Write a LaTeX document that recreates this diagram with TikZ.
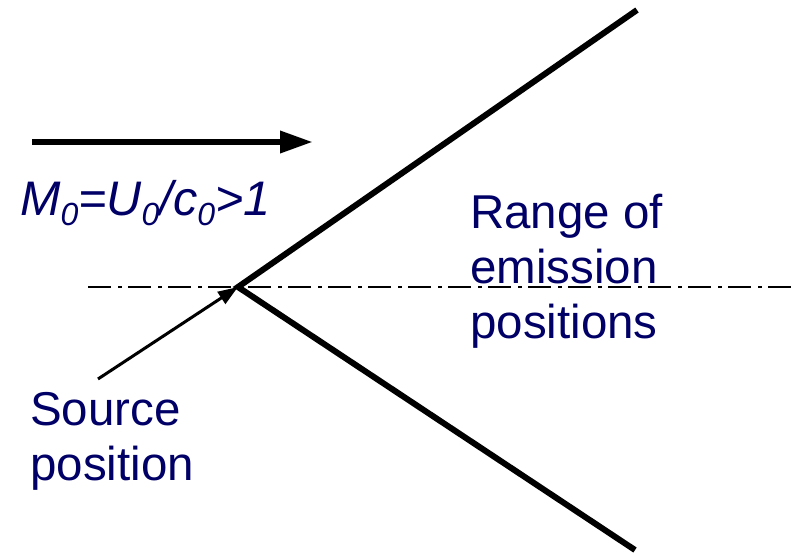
\documentclass[tikz,border=0pt]{standalone}
\usepackage{fontspec}
\setmainfont{Liberation Sans}
\usetikzlibrary{arrows.meta}
\definecolor{navytext}{RGB}{0,0,102}
\newcommand{\lowsub}[1]{\raisebox{-10pt}{\fontsize{32}{32}\selectfont #1}}

\begin{document}
\begin{tikzpicture}[
        x=1pt, y=-1pt,
        lbl/.style={text=navytext, font=\fontsize{47.5}{55}\selectfont, align=left, inner sep=0pt},
        wall/.style={line width=6pt, line join=miter},
        flow/.style={line width=6.5pt, -{Triangle[length=33pt, width=21pt]}},
        pointer/.style={line width=3pt, -{Triangle[length=20pt, width=14pt]}},
        axis/.style={line width=2pt, dash pattern=on 23pt off 7pt on 4pt off 6pt}
    ]
        \useasboundingbox (0,0) rectangle (798,556);

        \coordinate (src) at (238,287);
        \coordinate (axisstart) at (88,287);
        \coordinate (axisend) at (798,287);
        \coordinate (uppertip) at (637,10);
        \coordinate (lowertip) at (635,550);
        \coordinate (flowstart) at (32,142);
        \coordinate (flowend) at (313,142);
        \coordinate (pointertail) at (98,379);

        \draw[axis] (axisstart) -- (axisend);
        \draw[wall] (uppertip) -- (src) -- (lowertip);
        \draw[flow] (flowstart) -- (flowend);
        \draw[pointer] (pointertail) -- (src);

        \node[lbl, anchor=base west, font=\fontsize{48.5}{55}\selectfont] (machlbl) at (20,216)
            {\itshape M\lowsub{0}=U\lowsub{0}/c\lowsub{0}>1};
        \node[lbl, anchor=north west] (rangelbl) at (470,194) {Range of\\emission\\positions};
        \node[lbl, anchor=north west] (srclbl) at (30,392) {Source\\position};
    \end{tikzpicture}
\end{document}
